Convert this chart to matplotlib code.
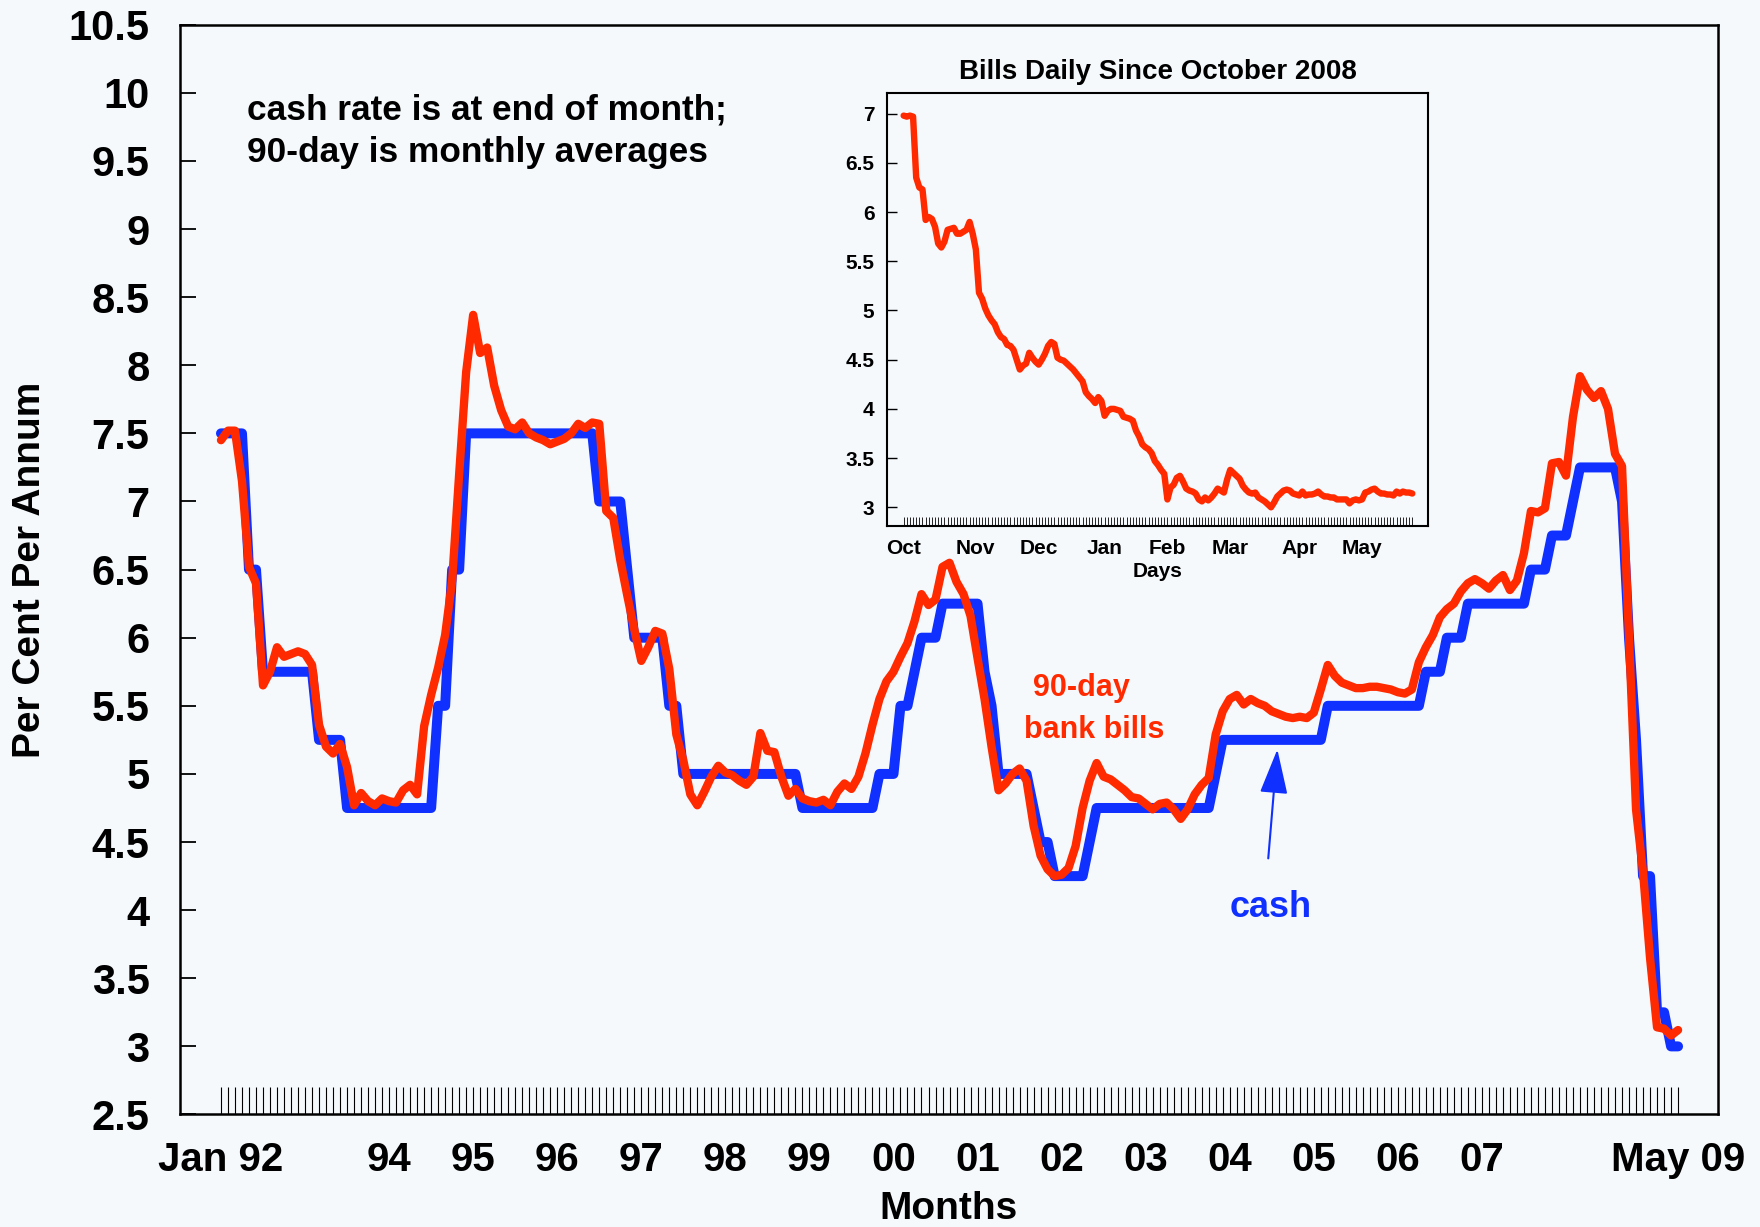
import numpy as np
import matplotlib.pyplot as plt

plt.rcParams['font.family'] = ['Liberation Sans', 'DejaVu Sans']
plt.rcParams['font.weight'] = 'bold'

# cash rate, end of month, Jan 1992 - May 2009
cash_rate = [
    7.5, 7.5, 7.5, 7.5, 6.5, 6.5, 5.75, 5.75, 5.75, 5.75, 5.75, 5.75,          # 92
    5.75, 5.75, 5.25, 5.25, 5.25, 5.25, 4.75, 4.75, 4.75, 4.75, 4.75, 4.75,    # 93
    4.75, 4.75, 4.75, 4.75, 4.75, 4.75, 4.75, 5.5, 5.5, 6.5, 6.5, 7.5,         # 94
    7.5, 7.5, 7.5, 7.5, 7.5, 7.5, 7.5, 7.5, 7.5, 7.5, 7.5, 7.5,                # 95
    7.5, 7.5, 7.5, 7.5, 7.5, 7.5, 7.0, 7.0, 7.0, 7.0, 6.5, 6.0,                # 96
    6.0, 6.0, 6.0, 6.0, 5.5, 5.5, 5.0, 5.0, 5.0, 5.0, 5.0, 5.0,                # 97
    5.0, 5.0, 5.0, 5.0, 5.0, 5.0, 5.0, 5.0, 5.0, 5.0, 5.0, 4.75,               # 98
    4.75, 4.75, 4.75, 4.75, 4.75, 4.75, 4.75, 4.75, 4.75, 4.75, 5.0, 5.0,      # 99
    5.0, 5.5, 5.5, 5.75, 6.0, 6.0, 6.0, 6.25, 6.25, 6.25, 6.25, 6.25,          # 00
    6.25, 5.75, 5.5, 5.0, 5.0, 5.0, 5.0, 5.0, 4.75, 4.5, 4.5, 4.25,            # 01
    4.25, 4.25, 4.25, 4.25, 4.5, 4.75, 4.75, 4.75, 4.75, 4.75, 4.75, 4.75,     # 02
    4.75, 4.75, 4.75, 4.75, 4.75, 4.75, 4.75, 4.75, 4.75, 4.75, 5.0, 5.25,     # 03
    5.25, 5.25, 5.25, 5.25, 5.25, 5.25, 5.25, 5.25, 5.25, 5.25, 5.25, 5.25,    # 04
    5.25, 5.25, 5.5, 5.5, 5.5, 5.5, 5.5, 5.5, 5.5, 5.5, 5.5, 5.5,              # 05
    5.5, 5.5, 5.5, 5.5, 5.75, 5.75, 5.75, 6.0, 6.0, 6.0, 6.25, 6.25,           # 06
    6.25, 6.25, 6.25, 6.25, 6.25, 6.25, 6.25, 6.5, 6.5, 6.5, 6.75, 6.75,       # 07
    6.75, 7.0, 7.25, 7.25, 7.25, 7.25, 7.25, 7.25, 7.0, 6.0, 5.25, 4.25,       # 08
    4.25, 3.25, 3.25, 3.0, 3.0,                                                # 09
]

# 90-day bank bills, monthly averages, Jan 1992 - May 2009
bills_90day = [
    7.45, 7.52, 7.52, 7.15, 6.52, 6.40, 5.65, 5.75, 5.93, 5.86, 5.88, 5.90,    # 92
    5.88, 5.80, 5.36, 5.20, 5.15, 5.22, 5.05, 4.77, 4.86, 4.80, 4.77, 4.82,    # 93
    4.80, 4.79, 4.88, 4.92, 4.85, 5.35, 5.58, 5.78, 6.02, 6.42, 7.20, 7.95,    # 94
    8.37, 8.09, 8.13, 7.85, 7.67, 7.55, 7.53, 7.58, 7.50, 7.47, 7.45, 7.42,    # 95
    7.44, 7.46, 7.50, 7.57, 7.54, 7.58, 7.57, 6.93, 6.88, 6.57, 6.31, 6.06,    # 96
    5.83, 5.93, 6.05, 6.03, 5.77, 5.29, 5.10, 4.85, 4.77, 4.87, 4.98, 5.06,    # 97
    5.01, 4.99, 4.95, 4.92, 4.98, 5.30, 5.17, 5.16, 4.98, 4.84, 4.89, 4.82,    # 98
    4.80, 4.79, 4.81, 4.77, 4.87, 4.93, 4.89, 4.98, 5.15, 5.36, 5.55, 5.68,    # 99
    5.75, 5.86, 5.96, 6.12, 6.32, 6.24, 6.28, 6.52, 6.55, 6.41, 6.32, 6.16,    # 00
    5.85, 5.55, 5.20, 4.88, 4.93, 5.00, 5.04, 4.95, 4.62, 4.40, 4.30, 4.25,    # 01
    4.26, 4.31, 4.47, 4.75, 4.95, 5.08, 4.98, 4.96, 4.92, 4.88, 4.83, 4.82,    # 02
    4.78, 4.74, 4.78, 4.79, 4.74, 4.67, 4.74, 4.85, 4.92, 4.97, 5.29, 5.46,    # 03
    5.55, 5.58, 5.51, 5.55, 5.52, 5.50, 5.46, 5.44, 5.42, 5.41, 5.42, 5.41,    # 04
    5.45, 5.62, 5.80, 5.72, 5.67, 5.65, 5.63, 5.63, 5.64, 5.64, 5.63, 5.62,    # 05
    5.60, 5.59, 5.62, 5.82, 5.93, 6.02, 6.15, 6.21, 6.25, 6.34, 6.40, 6.43,    # 06
    6.40, 6.36, 6.42, 6.46, 6.35, 6.42, 6.62, 6.93, 6.92, 6.95, 7.28, 7.29,    # 07
    7.19, 7.62, 7.92, 7.82, 7.76, 7.81, 7.68, 7.35, 7.26, 6.00, 4.74, 4.28,    # 08
    3.65, 3.14, 3.13, 3.08, 3.12,                                              # 09
]

x_labels = ['Jan 92', '94', '95', '96', '97', '98', '99', '00', '01',
            '02', '03', '04', '05', '06', '07', 'May 09']
x_label_months = [0, 24, 36, 48, 60, 72, 84, 96, 108,
                  120, 132, 144, 156, 168, 180, 208]

# bills daily since October 2008 (business days)
bills_daily = [
    6.98, 6.97, 6.98, 6.97, 6.35, 6.25, 6.23, 5.92, 5.95, 5.93, 5.85, 5.68,
    5.64, 5.70, 5.82, 5.83, 5.84, 5.78, 5.78, 5.80, 5.82, 5.90, 5.78, 5.62,
    5.18, 5.12, 5.02, 4.95, 4.90, 4.86, 4.78, 4.73, 4.71, 4.65, 4.64, 4.60,
    4.50, 4.40, 4.44, 4.46, 4.57, 4.52, 4.48, 4.45, 4.50, 4.56, 4.64, 4.68,
    4.66, 4.52, 4.50, 4.49, 4.46, 4.43, 4.40, 4.36, 4.32, 4.28, 4.17, 4.13,
    4.10, 4.06, 4.12, 4.08, 3.93, 3.98, 4.00, 4.00, 3.99, 3.98, 3.92, 3.91,
    3.90, 3.88, 3.78, 3.72, 3.64, 3.61, 3.59, 3.55, 3.47, 3.43, 3.38, 3.34,
    3.08, 3.20, 3.23, 3.30, 3.32, 3.26, 3.19, 3.17, 3.16, 3.14, 3.08, 3.06,
    3.10, 3.07, 3.10, 3.14, 3.19, 3.17, 3.15, 3.28, 3.38, 3.35, 3.32, 3.29,
    3.22, 3.18, 3.15, 3.14, 3.15, 3.10, 3.08, 3.06, 3.03, 3.00, 3.05, 3.11,
    3.14, 3.17, 3.18, 3.17, 3.14, 3.13, 3.12, 3.16, 3.12, 3.13, 3.13, 3.14,
    3.16, 3.13, 3.11, 3.11, 3.10, 3.10, 3.08, 3.08, 3.08, 3.08, 3.04, 3.07,
    3.08, 3.07, 3.08, 3.15, 3.16, 3.18, 3.19, 3.16, 3.14, 3.14, 3.13, 3.13,
    3.12, 3.16, 3.14, 3.16, 3.15, 3.15, 3.14,
]
inset_months = ['Oct', 'Nov', 'Dec', 'Jan', 'Feb', 'Mar', 'Apr', 'May']
inset_month_starts = [0, 23, 43, 64, 84, 104, 126, 146]

BG = '#f5f9fc'
BLUE = '#1030ff'
RED = '#ff2a00'

fig = plt.figure(figsize=(17.6, 12.27), dpi=100, facecolor=BG)
ax = fig.add_axes([0.10227, 0.09169, 0.87386, 0.88818], facecolor=BG)

months = np.arange(len(cash_rate))
ax.plot(months, cash_rate, color=BLUE, lw=7.2, solid_capstyle='round',
        solid_joinstyle='round', zorder=2)
ax.plot(months, bills_90day, color=RED, lw=6.0, solid_capstyle='round',
        solid_joinstyle='round', zorder=3)

ax.set_xlim(-5.85, 213.7)
ax.set_ylim(2.5, 10.5)

yt = np.arange(2.5, 10.51, 0.5)
ax.set_yticks(yt)
ax.set_yticklabels([f'{v:g}' for v in yt])
ax.set_xticks(x_label_months)
ax.set_xticklabels(x_labels)
ax.xaxis.remove_overlapping_locs = False
ax.set_xticks(months, minor=True)
ax.tick_params(axis='x', which='major', length=0, pad=19, labelsize=29)
ax.tick_params(axis='x', which='minor', direction='in', length=19.5, width=0.8)
ax.tick_params(axis='y', which='major', direction='in', length=11.5, width=1.3,
               pad=22, labelsize=30)
for s in ax.spines.values():
    s.set_linewidth(1.8)

ax.set_xlabel('Months', fontsize=28, fontweight='bold', labelpad=9)
ax.set_ylabel('Per Cent Per Annum', fontsize=28, fontweight='bold', labelpad=15)

ax.text(0.0436, 0.9025, 'cash rate is at end of month;\n90-day is monthly averages',
        transform=ax.transAxes, fontsize=25.4, fontweight='bold',
        ha='left', va='center', linespacing=1.35)

ax.text(122.9, 5.63, '90-day', color=RED, fontsize=22, fontweight='bold',
        ha='center', va='center')
ax.text(124.6, 5.32, 'bank bills', color=RED, fontsize=22, fontweight='bold',
        ha='center', va='center')
ax.text(149.8, 4.02, 'cash', color=BLUE, fontsize=26, fontweight='bold',
        ha='center', va='center')
ax.annotate('', xy=(150.8, 5.18), xytext=(149.5, 4.38),
            arrowprops=dict(arrowstyle='-|>,head_length=0.8,head_width=0.25',
                            mutation_scale=35, color=BLUE, lw=1.5,
                            shrinkA=0, shrinkB=0))

# inset: daily bills
ins = fig.add_axes([0.50398, 0.57131, 0.30739, 0.35290], facecolor=BG)
days = np.arange(len(bills_daily))
ins.plot(days, bills_daily, color=RED, lw=4.6, solid_capstyle='round',
         solid_joinstyle='round')
ins.set_xlim(-5.3, 167)
ins.set_ylim(2.81, 7.21)
iyt = np.arange(3, 7.01, 0.5)
ins.set_yticks(iyt)
ins.set_yticklabels([f'{v:g}' for v in iyt])
ins.set_xticks(inset_month_starts)
ins.set_xticklabels(inset_months)
ins.xaxis.remove_overlapping_locs = False
ins.set_xticks(days, minor=True)
ins.tick_params(axis='x', which='major', length=0, pad=9, labelsize=15)
ins.tick_params(axis='x', which='minor', direction='in', length=6.5, width=0.6)
ins.tick_params(axis='y', which='major', direction='in', length=7, width=1,
                pad=9, labelsize=15)
for s in ins.spines.values():
    s.set_linewidth(1.5)
ins.set_title('Bills Daily Since October 2008', fontsize=20, fontweight='bold', pad=10)
ins.set_xlabel('Days', fontsize=15, fontweight='bold', labelpad=3)

fig.savefig('out.png', dpi=100, facecolor=BG)
